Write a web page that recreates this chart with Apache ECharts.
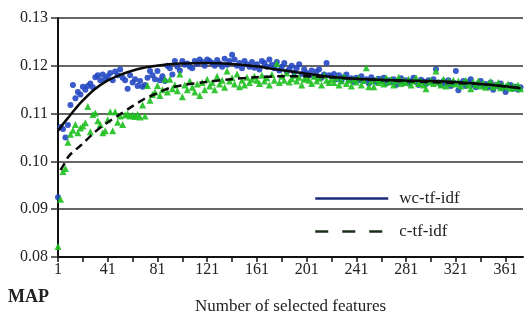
<!DOCTYPE html>
<html>
<head>
<meta charset="utf-8">
<script src="https://cdn.jsdelivr.net/npm/echarts@6/dist/echarts.min.js"></script>
<style>
  html, body { margin: 0; padding: 0; background: #fff; }
  #chart { width: 524px; height: 320px; }
</style>
</head>
<body>
<div id="chart"></div>
<script>
var chart = echarts.init(document.getElementById('chart'));

// y ticks
var yTicks = [0.08, 0.09, 0.10, 0.11, 0.12, 0.13];
// x ticks / labels
var xTicks = [1, 21, 41, 61, 81, 101, 121, 141, 161, 181, 201, 221, 241, 261, 281, 301, 321, 341, 361];
var xLabels = [1, 41, 81, 121, 161, 201, 241, 281, 321, 361];

// feature counts of the scatter points (1, 3, 5 ... 373)
var features = [];
for (var f = 1; f <= 373; f += 2) features.push(f);

// MAP of wc-tf-idf (blue circles)
var wcMap = [
  0.0925, 0.1072, 0.1068, 0.1050, 0.1076, 0.1118, 0.1160, 0.1132, 0.1145, 0.1140,
  0.1156, 0.1150, 0.1158, 0.1163, 0.1155, 0.1176, 0.1180, 0.1170, 0.1182, 0.1172,
  0.1178, 0.1185, 0.1170, 0.1188, 0.1180, 0.1192, 0.1175, 0.1170, 0.1152, 0.1180,
  0.1165, 0.1172, 0.1158, 0.1168, 0.1156, 0.1160, 0.1175, 0.1189, 0.1180, 0.1172,
  0.1189, 0.1170, 0.1178, 0.1168, 0.1200, 0.1195, 0.1182, 0.1210, 0.1198, 0.1190,
  0.1210, 0.1202, 0.1205, 0.1198, 0.1195, 0.1210, 0.1204, 0.1213, 0.1208, 0.1200,
  0.1213, 0.1210, 0.1206, 0.1200, 0.1212, 0.1205, 0.1198, 0.1215, 0.1202, 0.1210,
  0.1223, 0.1213, 0.1200, 0.1206, 0.1195, 0.1210, 0.1203, 0.1198, 0.1208, 0.1196,
  0.1203, 0.1192, 0.1210, 0.1206, 0.1198, 0.1213, 0.1202, 0.1195, 0.1208, 0.1190,
  0.1198, 0.1206, 0.1188, 0.1193, 0.1200, 0.1186, 0.1195, 0.1203, 0.1183, 0.1193,
  0.1185, 0.1180, 0.1190, 0.1178, 0.1188, 0.1193, 0.1175, 0.1182, 0.1206, 0.1180,
  0.1178, 0.1183, 0.1172, 0.1180, 0.1168, 0.1176, 0.1182, 0.1170, 0.1174, 0.1166,
  0.1175, 0.1170, 0.1178, 0.1168, 0.1172, 0.1163, 0.1176, 0.1170, 0.1166, 0.1173,
  0.1168, 0.1175, 0.1163, 0.1170, 0.1166, 0.1172, 0.1160, 0.1168, 0.1174, 0.1165,
  0.1170, 0.1163, 0.1168, 0.1175, 0.1166, 0.1160, 0.1171, 0.1167, 0.1162, 0.1170,
  0.1166, 0.1172, 0.1193, 0.1165, 0.1160, 0.1168, 0.1163, 0.1170, 0.1158, 0.1165,
  0.1189, 0.1149, 0.1163, 0.1168, 0.1158, 0.1166, 0.1172, 0.1160, 0.1155, 0.1163,
  0.1168, 0.1158, 0.1162, 0.1155, 0.1165, 0.1150, 0.1160, 0.1157, 0.1163, 0.1153,
  0.1145, 0.1158, 0.1160, 0.1152, 0.1156, 0.1150, 0.1155
];

// MAP of c-tf-idf (green triangles)
var cMap = [
  0.0822, 0.0921, 0.0979, 0.0985, 0.1040, 0.1057, 0.1065, 0.1077, 0.1060, 0.1070,
  0.1074, 0.1081, 0.1115, 0.1062, 0.1098, 0.1101, 0.1085, 0.1077, 0.1060, 0.1064,
  0.1087, 0.1104, 0.1064, 0.1104, 0.1082, 0.1095, 0.1077, 0.1097, 0.1099, 0.1095,
  0.1097, 0.1094, 0.1098, 0.1093, 0.1118, 0.1095, 0.1159, 0.1128, 0.1140, 0.1145,
  0.1159, 0.1138, 0.1150, 0.1172, 0.1145, 0.1172, 0.1152, 0.1160, 0.1148, 0.1183,
  0.1135, 0.1160, 0.1150, 0.1168, 0.1155, 0.1145, 0.1162, 0.1138, 0.1165, 0.1150,
  0.1172, 0.1158, 0.1165, 0.1150, 0.1178, 0.1162, 0.1170, 0.1155, 0.1189, 0.1168,
  0.1175, 0.1162, 0.1183, 0.1156, 0.1170, 0.1160, 0.1176, 0.1165, 0.1172, 0.1178,
  0.1170, 0.1163, 0.1180, 0.1168, 0.1175, 0.1160, 0.1182, 0.1170, 0.1205, 0.1165,
  0.1178, 0.1170, 0.1185, 0.1166, 0.1173, 0.1180, 0.1168, 0.1176, 0.1160, 0.1172,
  0.1175, 0.1170, 0.1163, 0.1178, 0.1168, 0.1174, 0.1160, 0.1180, 0.1170, 0.1165,
  0.1172, 0.1165, 0.1175, 0.1160, 0.1168, 0.1178, 0.1163, 0.1170, 0.1158, 0.1172,
  0.1166, 0.1175, 0.1160, 0.1170, 0.1196, 0.1156, 0.1168, 0.1156, 0.1172, 0.1165,
  0.1170, 0.1162, 0.1175, 0.1166, 0.1172, 0.1160, 0.1168, 0.1176, 0.1163, 0.1170,
  0.1165, 0.1172, 0.1160, 0.1168, 0.1175, 0.1163, 0.1168, 0.1160, 0.1152, 0.1166,
  0.1170, 0.1163, 0.1189, 0.1166, 0.1160, 0.1172, 0.1158, 0.1168, 0.1163, 0.1170,
  0.1162, 0.1168, 0.1158, 0.1165, 0.1170, 0.1160, 0.1152, 0.1166, 0.1160, 0.1168,
  0.1158, 0.1164, 0.1155, 0.1162, 0.1167, 0.1156, 0.1160, 0.1165, 0.1154, 0.1160,
  0.1156, 0.1162, 0.1153, 0.1158, 0.1155, 0.1160, 0.1152
];

// trend lines
var wcTrendX = [1, 5, 10, 15, 20, 30, 40, 50, 60, 70, 80, 90, 100, 120, 140, 160, 180, 200, 220, 240, 260, 280, 300, 320, 340, 360, 373];
var wcTrend = [0.1064, 0.1078, 0.1094, 0.1110, 0.1125, 0.1150, 0.1168, 0.1180, 0.1189, 0.1196, 0.1200, 0.1203, 0.1205, 0.1206, 0.1204, 0.1199, 0.1191, 0.1184, 0.1177, 0.1173, 0.1171, 0.1169, 0.1168, 0.1166, 0.1162, 0.1157, 0.1153];
var cTrendX = [3, 5, 10, 20, 30, 40, 50, 60, 70, 80, 90, 100, 120, 140, 160, 180, 200, 220, 240, 260, 280, 300, 320, 340, 360, 373];
var cTrend = [0.0982, 0.0990, 0.1012, 0.1035, 0.1060, 0.1080, 0.1097, 0.1114, 0.1130, 0.1142, 0.1153, 0.1159, 0.1166, 0.1172, 0.1176, 0.1178, 0.1178, 0.1176, 0.1173, 0.1170, 0.1168, 0.1166, 0.1164, 0.1162, 0.1157, 0.1154];

function pairs(xs, ys) {
  return ys.map(function (v, i) { return [xs[i], v]; });
}

var serif = '"Liberation Serif", "Times New Roman", serif';

var option = {
  animation: false,
  grid: { left: 58, right: 1, top: 18, bottom: 57 },
  legend: {
    show: true,
    orient: 'vertical',
    left: 309,
    top: 185,
    itemWidth: 73,
    itemHeight: 18,
    itemGap: 16,
    textStyle: { fontFamily: serif, fontSize: 17, color: '#222', padding: [0, 0, 0, 6] },
    data: [
      { name: 'wc-tf-idf', itemStyle: { opacity: 0 }, lineStyle: { color: '#1c2a7c', width: 2.5 } },
      { name: 'c-tf-idf', itemStyle: { opacity: 0 }, lineStyle: { color: '#1a2e1a', width: 2.5, type: [13, 14] } }
    ]
  },
  xAxis: {
    type: 'value',
    min: 1,
    max: 375,
    name: 'Number of selected features',
    nameLocation: 'middle',
    nameGap: 41,
    nameTextStyle: { fontFamily: serif, fontSize: 17, color: '#222' },
    axisLine: { lineStyle: { color: '#111', width: 2 } },
    axisTick: { customValues: xTicks, length: 5, lineStyle: { color: '#111', width: 1.5 } },
    axisLabel: { customValues: xLabels, margin: 5, fontFamily: serif, fontSize: 16, color: '#222' },
    splitLine: { show: false }
  },
  yAxis: {
    type: 'value',
    min: 0.08,
    max: 0.13,
    interval: 0.01,
    axisLine: { show: true, lineStyle: { color: '#111', width: 2 } },
    axisTick: { show: true, length: 7, lineStyle: { color: '#333', width: 1.5 } },
    axisLabel: {
      margin: 10, fontFamily: serif, fontSize: 16, color: '#222',
      formatter: function (v) { return v.toFixed(2); }
    },
    splitLine: { lineStyle: { color: '#666', width: 2 } }
  },
  graphic: [{
    type: 'text',
    left: 8,
    top: 288,
    style: { text: 'MAP', font: 'bold 18px ' + serif, fill: '#222' }
  }],
  series: [
    {
      name: 'wc-tf-idf points',
      type: 'scatter',
      symbol: 'circle',
      symbolSize: 6,
      itemStyle: { color: '#2448c2', opacity: 0.9 },
      data: pairs(features, wcMap),
      z: 2
    },
    {
      name: 'c-tf-idf points',
      type: 'scatter',
      symbol: 'triangle',
      symbolSize: 7,
      itemStyle: { color: '#1fc020', opacity: 0.9 },
      data: pairs(features, cMap),
      z: 3
    },
    {
      name: 'wc-tf-idf',
      type: 'line',
      smooth: 0.3,
      symbol: 'none',
      lineStyle: { color: '#0a0a0a', width: 2.5 },
      itemStyle: { color: '#1c2a7c' },
      data: pairs(wcTrendX, wcTrend),
      z: 5
    },
    {
      name: 'c-tf-idf',
      type: 'line',
      smooth: 0.3,
      symbol: 'none',
      lineStyle: { color: '#0a0a0a', width: 2.5, type: [8, 5] },
      itemStyle: { color: '#1a2e1a' },
      data: pairs(cTrendX, cTrend),
      z: 5
    }
  ]
};
chart.setOption(option);
</script>
</body>
</html>
